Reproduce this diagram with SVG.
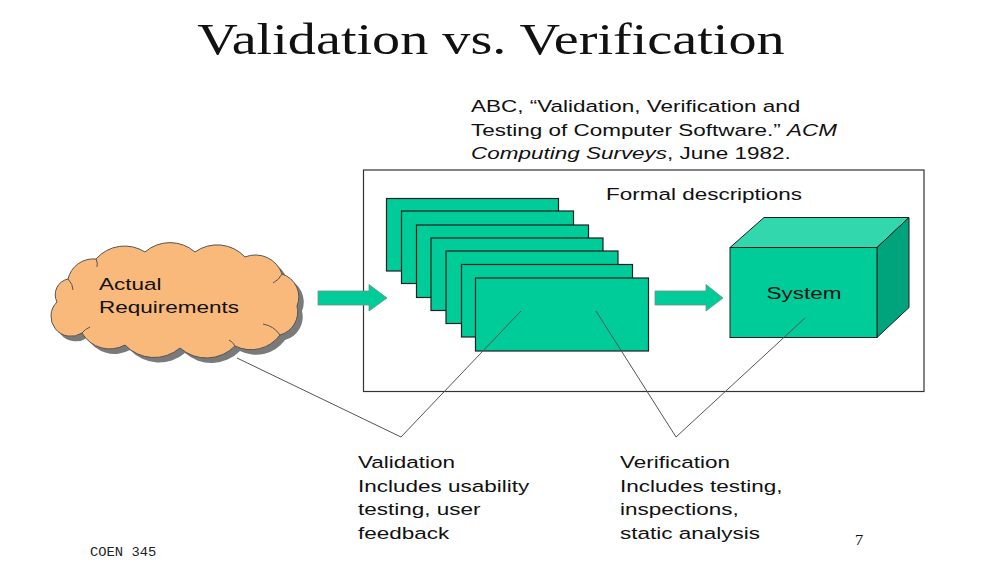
<svg xmlns="http://www.w3.org/2000/svg" width="982" height="570" viewBox="0 0 982 570">
  <style>
    .sans { font-family: "Liberation Sans", Arial, sans-serif; font-size: 17.4px; fill: #111; }
    .serif { font-family: "Liberation Serif", "Times New Roman", serif; fill: #111; }
    .mono { font-family: "Liberation Mono", "Courier New", monospace; fill: #222; }
    .sheet { fill: #00CC99; stroke: #1f1f1f; stroke-width: 1.2; }
    .arrow { fill: #00CC99; stroke: #6f8f86; stroke-width: 0.8; }
    .callout { fill: none; stroke: #555; stroke-width: 1; }
    .frame { fill: none; stroke: #333; stroke-width: 1.2; }
  </style>

  <rect width="982" height="570" fill="#ffffff"/>

  <!-- Title (slide content is stretched horizontally, hence the x-scale) -->
  <g id="title" transform="translate(491 54) scale(1.292 1)">
    <text class="serif" x="0" y="0" font-size="43.5" text-anchor="middle">Validation vs. Verification</text>
  </g>

  <!-- Citation -->
  <g id="citation" transform="translate(471 112) scale(1.292 1)">
    <text class="sans" x="0" y="0">ABC, “Validation, Verification and</text>
    <text class="sans" x="0" y="23.6">Testing of Computer Software.” <tspan font-style="italic">ACM</tspan></text>
    <text class="sans" x="0" y="47.2"><tspan font-style="italic">Computing Surveys</tspan>, June 1982.</text>
  </g>

  <!-- Frame around the formal descriptions and the system -->
  <g id="frame">
    <rect class="frame" x="363.5" y="170" width="560.5" height="221.5"/>
    <g transform="translate(606 200) scale(1.292 1)">
      <text class="sans" x="0" y="0">Formal descriptions</text>
    </g>
  </g>

  <!-- Cloud: actual requirements -->
  <g id="requirements">
    <path transform="translate(5 5)" fill="#7a7a7a" d="M57,302 A16,16 0 0 1 68,279 A26,26 0 0 1 96,259 A38,38 0 0 1 145,252 A38,38 0 0 1 195,252 A38,38 0 0 1 245,257 A28,28 0 0 1 282,274 A24,24 0 0 1 297,306 A24,24 0 0 1 280,335 A36,36 0 0 1 235,346 A40,40 0 0 1 180,348 A40,40 0 0 1 125,345 A32,32 0 0 1 82,333 A20,20 0 0 1 57,302 Z"/>
    <path fill="#F9B97B" stroke="#555" stroke-width="1" d="M57,302 A16,16 0 0 1 68,279 A26,26 0 0 1 96,259 A38,38 0 0 1 145,252 A38,38 0 0 1 195,252 A38,38 0 0 1 245,257 A28,28 0 0 1 282,274 A24,24 0 0 1 297,306 A24,24 0 0 1 280,335 A36,36 0 0 1 235,346 A40,40 0 0 1 180,348 A40,40 0 0 1 125,345 A32,32 0 0 1 82,333 A20,20 0 0 1 57,302 Z"/>
    <!-- inner curls of the cloud outline -->
    <path class="callout" stroke="#666" d="M68,279 q5,5 5,11 M96,259 q2,4 1,8 M282,274 q-3,6 -9,9 M280,335 q-6,-9 -17,-11 M235,346 q-2,-4 -6,-6 M82,333 q3,-4 8,-6"/>
    <g transform="translate(99 289.5) scale(1.292 1)">
      <text class="sans" x="0" y="0">Actual</text>
      <text class="sans" x="0" y="23.8">Requirements</text>
    </g>
  </g>

  <!-- Stack of formal description sheets -->
  <g id="formal-descriptions">
    <rect class="sheet" x="386.5" y="198.5" width="172" height="72.5"/>
    <rect class="sheet" x="401.5" y="211" width="172" height="72.5"/>
    <rect class="sheet" x="416.5" y="225" width="172" height="72.5"/>
    <rect class="sheet" x="431" y="238" width="172" height="72.5"/>
    <rect class="sheet" x="446" y="251" width="172" height="72.5"/>
    <rect class="sheet" x="461.5" y="264.5" width="171" height="72.5"/>
    <rect class="sheet" x="475.5" y="278" width="173" height="73"/>
  </g>

  <!-- System block -->
  <g id="system">
    <polygon points="730,247.5 764,217.5 909,217.5 877,247.5" fill="#33D7AE" stroke="#1f1f1f" stroke-width="1"/>
    <polygon points="877,247.5 909,217.5 909,307.5 877,337.5" fill="#00A47C" stroke="#1f1f1f" stroke-width="1"/>
    <rect x="730" y="247.5" width="147" height="90" fill="#00CC99" stroke="#1f1f1f" stroke-width="1"/>
    <g transform="translate(804 299) scale(1.292 1)">
      <text class="sans" x="0" y="0" text-anchor="middle">System</text>
    </g>
  </g>

  <!-- Connectors: flow arrows and callout lines -->
  <g id="connectors">
    <polygon class="arrow" points="318,291 369,291 369,284.5 387,298 369,311 369,305 318,305"/>
    <polygon class="arrow" points="655,291 706,291 706,284.5 723,298 706,311 706,305 655,305"/>
    <polyline class="callout" points="237,358 401,437 521,311"/>
    <polyline class="callout" points="596,311 676,437 805,318"/>
  </g>

  <!-- Validation note -->
  <g id="validation-note" transform="translate(358 468) scale(1.292 1)">
    <text class="sans" x="0" y="0">Validation</text>
    <text class="sans" x="0" y="23.7">Includes usability</text>
    <text class="sans" x="0" y="47.4">testing, user</text>
    <text class="sans" x="0" y="71.1">feedback</text>
  </g>

  <!-- Verification note -->
  <g id="verification-note" transform="translate(620 468) scale(1.292 1)">
    <text class="sans" x="0" y="0">Verification</text>
    <text class="sans" x="0" y="23.7">Includes testing,</text>
    <text class="sans" x="0" y="47.4">inspections,</text>
    <text class="sans" x="0" y="71.1">static analysis</text>
  </g>

  <!-- Footer -->
  <g id="footer">
    <g transform="translate(90 556) scale(1.15 1)">
      <text class="mono" x="0" y="0" font-size="12">COEN 345</text>
    </g>
    <g transform="translate(855 545) scale(1.1 1)">
      <text class="serif" x="0" y="0" font-size="15">7</text>
    </g>
  </g>
</svg>
